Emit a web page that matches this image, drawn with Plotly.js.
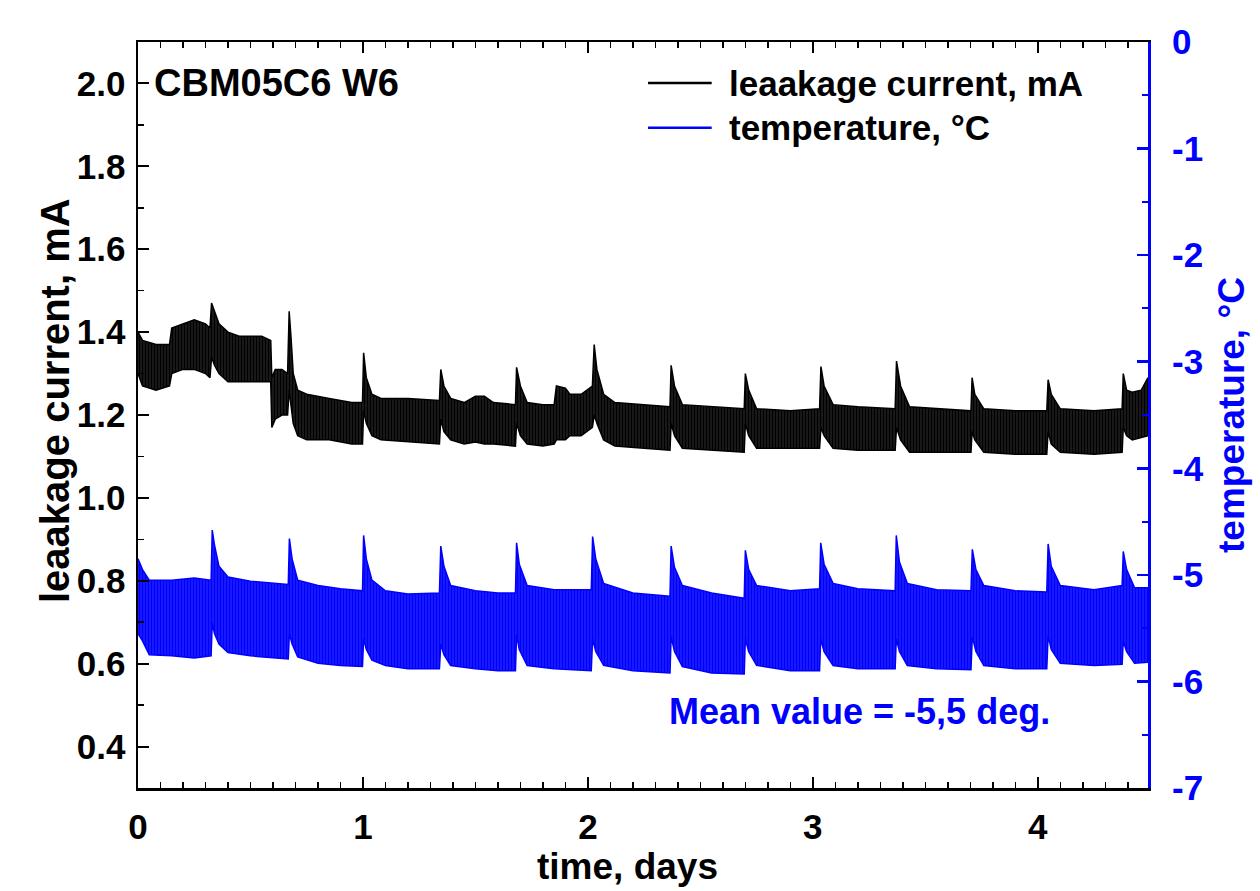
<!DOCTYPE html>
<html>
<head>
<meta charset="utf-8">
<script src="https://cdn.plot.ly/plotly-3.0.1.min.js"></script>
<style>html,body{margin:0;padding:0;background:#fff;}#chart{width:1260px;height:891px;}</style>
</head>
<body>
<div id="chart"></div>
<script>
// ---- data (envelopes of the dense oscillating signals) ----
const tCur = [0, 0.02, 0.08, 0.14, 0.15, 0.20, 0.25, 0.30, 0.32, 0.327, 0.34, 0.36, 0.40, 0.45, 0.50, 0.55, 0.59, 0.595, 0.61, 0.64, 0.665, 0.672, 0.68, 0.69, 0.71, 0.75, 0.85, 0.95, 0.998, 1.003, 1.015, 1.04, 1.08, 1.20, 1.34, 1.346, 1.36, 1.39, 1.45, 1.50, 1.54, 1.58, 1.678, 1.683, 1.70, 1.73, 1.80, 1.85, 1.86, 1.90, 1.92, 1.97, 2.02, 2.028, 2.04, 2.07, 2.12, 2.25, 2.365, 2.37, 2.385, 2.42, 2.55, 2.695, 2.70, 2.715, 2.75, 2.90, 3.03, 3.036, 3.05, 3.09, 3.20, 3.366, 3.372, 3.39, 3.43, 3.55, 3.703, 3.708, 3.72, 3.76, 3.90, 4.04, 4.046, 4.06, 4.10, 4.25, 4.375, 4.38, 4.395, 4.42, 4.46, 4.49];
const curHi = [1.40, 1.38, 1.37, 1.37, 1.41, 1.42, 1.43, 1.42, 1.41, 1.47, 1.45, 1.42, 1.40, 1.39, 1.39, 1.39, 1.38, 1.29, 1.31, 1.31, 1.30, 1.45, 1.39, 1.30, 1.26, 1.25, 1.24, 1.23, 1.23, 1.35, 1.29, 1.25, 1.24, 1.24, 1.235, 1.31, 1.27, 1.24, 1.23, 1.245, 1.245, 1.23, 1.225, 1.315, 1.27, 1.23, 1.225, 1.225, 1.27, 1.265, 1.25, 1.25, 1.27, 1.37, 1.31, 1.25, 1.23, 1.225, 1.22, 1.32, 1.27, 1.225, 1.22, 1.215, 1.30, 1.26, 1.215, 1.21, 1.215, 1.317, 1.27, 1.225, 1.22, 1.215, 1.33, 1.27, 1.22, 1.215, 1.21, 1.29, 1.25, 1.215, 1.21, 1.21, 1.285, 1.25, 1.215, 1.21, 1.215, 1.30, 1.26, 1.255, 1.26, 1.29];
const curLo = [1.30, 1.27, 1.26, 1.27, 1.30, 1.31, 1.31, 1.30, 1.29, 1.34, 1.32, 1.30, 1.28, 1.28, 1.28, 1.28, 1.28, 1.17, 1.19, 1.20, 1.20, 1.26, 1.22, 1.18, 1.15, 1.14, 1.14, 1.13, 1.13, 1.21, 1.18, 1.15, 1.14, 1.135, 1.13, 1.19, 1.16, 1.14, 1.13, 1.135, 1.13, 1.13, 1.125, 1.18, 1.15, 1.13, 1.125, 1.13, 1.14, 1.14, 1.15, 1.15, 1.17, 1.20, 1.18, 1.14, 1.125, 1.12, 1.115, 1.18, 1.15, 1.12, 1.115, 1.11, 1.18, 1.15, 1.12, 1.12, 1.12, 1.17, 1.15, 1.12, 1.115, 1.115, 1.17, 1.14, 1.11, 1.11, 1.11, 1.16, 1.14, 1.11, 1.105, 1.105, 1.16, 1.13, 1.11, 1.105, 1.11, 1.17, 1.15, 1.14, 1.145, 1.15];

const tTmp = [0, 0.02, 0.05, 0.15, 0.25, 0.325, 0.33, 0.34, 0.36, 0.40, 0.50, 0.60, 0.668, 0.673, 0.685, 0.71, 0.80, 0.90, 0.998, 1.003, 1.015, 1.04, 1.10, 1.20, 1.34, 1.346, 1.36, 1.39, 1.50, 1.60, 1.678, 1.683, 1.695, 1.73, 1.85, 2.015, 2.021, 2.035, 2.07, 2.20, 2.365, 2.37, 2.385, 2.42, 2.55, 2.695, 2.70, 2.715, 2.75, 2.90, 3.03, 3.035, 3.05, 3.09, 3.20, 3.366, 3.371, 3.385, 3.42, 3.55, 3.703, 3.709, 3.725, 3.76, 3.90, 4.04, 4.046, 4.06, 4.10, 4.25, 4.375, 4.38, 4.395, 4.43, 4.49];
const tmpHi = [-4.85, -4.95, -5.05, -5.05, -5.03, -5.05, -4.58, -4.72, -4.92, -5.02, -5.06, -5.08, -5.09, -4.66, -4.85, -5.05, -5.10, -5.13, -5.15, -4.63, -4.85, -5.05, -5.15, -5.18, -5.17, -4.73, -4.92, -5.10, -5.15, -5.17, -5.17, -4.70, -4.90, -5.10, -5.14, -5.14, -4.64, -4.85, -5.08, -5.17, -5.20, -4.73, -4.93, -5.10, -5.17, -5.22, -4.77, -4.95, -5.10, -5.15, -5.13, -4.70, -4.90, -5.08, -5.13, -5.15, -4.63, -4.88, -5.08, -5.14, -5.15, -4.76, -4.95, -5.10, -5.15, -5.16, -4.71, -4.92, -5.10, -5.14, -5.10, -4.78, -4.95, -5.12, -5.12];
const tmpLo = [-5.55, -5.62, -5.75, -5.76, -5.78, -5.76, -5.45, -5.55, -5.65, -5.73, -5.76, -5.78, -5.79, -5.55, -5.65, -5.77, -5.83, -5.85, -5.86, -5.60, -5.70, -5.80, -5.85, -5.88, -5.88, -5.65, -5.75, -5.85, -5.88, -5.90, -5.90, -5.56, -5.70, -5.85, -5.88, -5.90, -5.60, -5.72, -5.85, -5.90, -5.92, -5.58, -5.72, -5.86, -5.92, -5.93, -5.60, -5.72, -5.85, -5.90, -5.90, -5.60, -5.72, -5.85, -5.88, -5.88, -5.60, -5.72, -5.85, -5.88, -5.89, -5.58, -5.72, -5.85, -5.88, -5.88, -5.57, -5.70, -5.83, -5.85, -5.84, -5.62, -5.72, -5.83, -5.82];

const tempTickVals = [0, -1, -2, -3, -4, -5, -6, -7];
const tempTickText = ['0', '-1', '-2', '-3', '-4', '-5', '-6', '-7'];

const seriesNames = ['leaakage current, mA', 'temperature, °C'];
const xTitle = 'time, days';
const sampleLabel = 'CBM05C6 W6';
const meanLabel = 'Mean value = -5,5 deg.';

// ---- drawing ----
const FONT = 'Liberation Sans, Arial, sans-serif';
const BLUE = '#0000ff';

const traces = [
  {x: tCur, y: curLo, type: 'scatter', mode: 'lines', line: {color: '#000', width: 1.5}, yaxis: 'y', showlegend: false, hoverinfo: 'skip'},
  {x: tCur, y: curHi, type: 'scatter', mode: 'lines', line: {color: '#000', width: 1.5}, yaxis: 'y', showlegend: false,
   fill: 'tonexty', fillcolor: 'rgba(0,0,0,0.9)',
   fillpattern: {shape: '|', fgcolor: '#000', bgcolor: 'rgba(40,40,40,1)', size: 3, solidity: 0.6}, hoverinfo: 'skip'},
  {x: tTmp, y: tmpLo, type: 'scatter', mode: 'lines', line: {color: BLUE, width: 1.5}, yaxis: 'y2', showlegend: false, hoverinfo: 'skip'},
  {x: tTmp, y: tmpHi, type: 'scatter', mode: 'lines', line: {color: BLUE, width: 1.5}, yaxis: 'y2', showlegend: false,
   fill: 'tonexty', fillcolor: 'rgba(0,0,255,0.9)',
   fillpattern: {shape: '|', fgcolor: BLUE, bgcolor: 'rgba(40,40,255,1)', size: 3, solidity: 0.6}, hoverinfo: 'skip'}
];

const tickFont = {family: FONT, size: 35, color: '#000', weight: 'bold'};

const layout = {
  width: 1260, height: 891,
  margin: {l: 138, r: 112, t: 42, b: 103},
  paper_bgcolor: '#fff', plot_bgcolor: '#fff',
  showlegend: false,
  xaxis: {
    range: [0, 4.49], tick0: 0, dtick: 1, ticks: 'inside', ticklen: 11, tickwidth: 2, tickcolor: '#000',
    minor: {dtick: 0.1, ticks: 'inside', ticklen: 6, tickwidth: 1.5, tickcolor: '#000'},
    showline: true, linewidth: 2.5, linecolor: '#000', mirror: 'ticks',
    showgrid: false, zeroline: false, tickfont: tickFont, ticklabelstandoff: 6
  },
  yaxis: {
    range: [0.3, 2.1], tick0: 0.4, dtick: 0.2, tickformat: '.1f', ticks: 'inside', ticklen: 11, tickwidth: 2, tickcolor: '#000',
    minor: {dtick: 0.1, ticks: 'inside', ticklen: 6, tickwidth: 1.5, tickcolor: '#000'},
    showline: true, linewidth: 2.5, linecolor: '#000', mirror: false,
    showgrid: false, zeroline: false, tickfont: tickFont, ticklabelstandoff: 3
  },
  yaxis2: {
    overlaying: 'y', side: 'right', range: [-7, 0],
    tickmode: 'array', tickvals: tempTickVals, ticktext: tempTickText,
    ticks: 'inside', ticklen: 11, tickwidth: 2.5, tickcolor: BLUE,
    minor: {dtick: 0.5, tick0: 0, ticks: 'inside', ticklen: 6, tickwidth: 2, tickcolor: BLUE},
    showline: true, linewidth: 3, linecolor: BLUE,
    showgrid: false, zeroline: false, tickfont: {family: FONT, size: 35, color: BLUE, weight: 'bold'}, ticklabelstandoff: 14,
    title: {text: seriesNames[1], font: {family: FONT, size: 37, color: BLUE, weight: 'bold'}, standoff: 16}
  },
  shapes: [
    {type: 'line', xref: 'paper', yref: 'paper', x0: 0.505, x1: 0.568, y0: 0.945, y1: 0.945, line: {color: '#000', width: 2.5}},
    {type: 'line', xref: 'paper', yref: 'paper', x0: 0.505, x1: 0.568, y0: 0.885, y1: 0.885, line: {color: BLUE, width: 2.5}}
  ],
  annotations: [
    {xref: 'paper', yref: 'paper', x: 0.583, y: 0.945, xanchor: 'left', yanchor: 'middle', showarrow: false,
     text: seriesNames[0], font: {family: FONT, size: 35, color: '#000', weight: 'bold'}},
    {xref: 'paper', yref: 'paper', x: 0.583, y: 0.885, xanchor: 'left', yanchor: 'middle', showarrow: false,
     text: seriesNames[1], font: {family: FONT, size: 35, color: '#000', weight: 'bold'}},
    {xref: 'paper', yref: 'paper', x: 0.0139, y: 0.945, xanchor: 'left', yanchor: 'middle', showarrow: false,
     text: sampleLabel, font: {family: FONT, size: 38, color: '#000', weight: 'bold'}},
    {xref: 'paper', yref: 'paper', x: 0.905, y: 0.102, xanchor: 'right', yanchor: 'middle', showarrow: false,
     text: meanLabel, font: {family: FONT, size: 36, color: BLUE, weight: 'bold'}},
    // axis titles placed as annotations to match the reference position
    {xref: 'paper', yref: 'paper', x: -0.082, y: 0.519, xanchor: 'center', yanchor: 'middle', textangle: -90, showarrow: false,
     text: seriesNames[0], font: {family: FONT, size: 40, color: '#000', weight: 'bold'}},
    {xref: 'paper', yref: 'paper', x: 0.485, y: -0.136, xanchor: 'center', yanchor: 'bottom', showarrow: false,
     text: xTitle, font: {family: FONT, size: 37, color: '#000', weight: 'bold'}}
  ]
};

Plotly.newPlot('chart', traces, layout, {staticPlot: true, displayModeBar: false});
</script>
</body>
</html>
